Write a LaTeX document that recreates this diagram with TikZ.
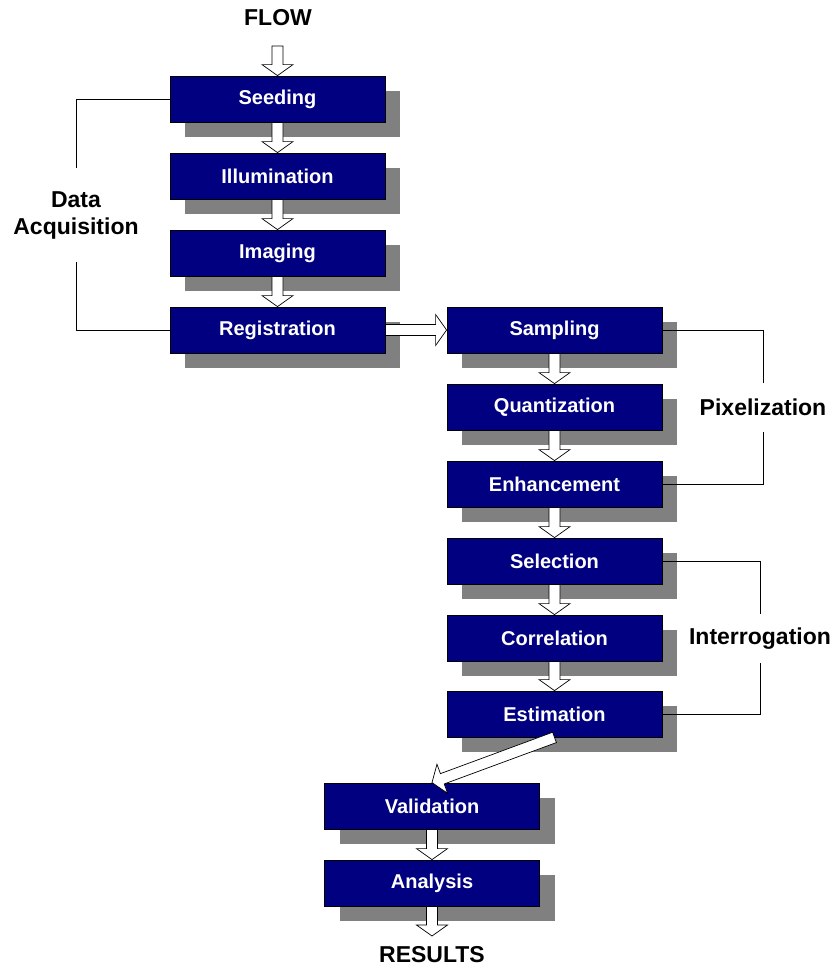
\documentclass[tikz,border=0pt]{standalone}
\usepackage{fontspec}
\setmainfont{Liberation Sans}
\usetikzlibrary{calc,shadows}
\definecolor{boxblue}{HTML}{000080}
\definecolor{shadowgray}{HTML}{808080}
\newcommand{\blockarrow}[2]{%
  \path let \p1=($(#2)-(#1)$), \n1={atan2(\y1,\x1)}, \n2={veclen(\x1,\y1)} in
    \pgfextra{\xdef\bAang{\n1}\xdef\bAlen{\n2}};
  \begin{scope}[shift={(#1)}, rotate=\bAang]
    \draw[blockarr] (0pt,-5.5pt) -- ({\bAlen-11pt},-5.5pt) -- ({\bAlen-11pt},-15.5pt)
      -- ({\bAlen},0pt) -- ({\bAlen-11pt},15.5pt) -- ({\bAlen-11pt},5.5pt)
      -- (0pt,5.5pt) -- cycle;
  \end{scope}}
\tikzset{
  stagebox/.style={draw=black, line width=0.8pt, fill=boxblue, text=white,
    font=\bfseries\fontsize{20}{24}\selectfont, minimum height=46pt, inner sep=0pt,
    general shadow={fill=shadowgray, shadow xshift=15pt, shadow yshift=-15pt}},
  colA/.style={stagebox, minimum width=215pt},
  blockarr/.style={draw=black, fill=white, line width=0.7pt, line join=miter},
  headlabel/.style={font=\bfseries\fontsize{23}{27}\selectfont, inner sep=0pt, align=center},
  bracket/.style={draw=black, line width=0.8pt}
}
\begin{document}
\begin{tikzpicture}[x=1pt, y=-1pt]
\useasboundingbox (0,0) rectangle (838,972);
% column 1
\node[colA] (seeding) at (277.5,99) {Seeding};
\node[colA] (illum) at (277.5,176) {Illumination};
\node[colA] (imaging) at (277.5,253) {Imaging};
\node[colA] (registr) at (277.5,330) {Registration};
% column 2
\node[colA] (sampling) at (554.5,330) {Sampling};
\node[colA] (quant) at (554.5,407) {Quantization};
\node[colA] (enh) at (554.5,484) {Enhancement};
\node[colA] (sel) at (554.5,561) {Selection};
\node[colA] (corr) at (554.5,638) {Correlation};
\node[colA] (estim) at (554.5,714) {Estimation};
% column 3
\node[colA] (valid) at (432,806) {Validation};
\node[colA] (analysis) at (432,883) {Analysis};
% labels
\node[headlabel] (flow) at (278,18) {FLOW};
\node[headlabel] (results) at (432,955) {RESULTS};
\node[headlabel, minimum height=94pt] (dacq) at (76,215) {Data\\Acquisition};
\node[headlabel, minimum height=49pt] (pix) at (763,407.5) {Pixelization};
\node[headlabel, minimum height=49pt] (interr) at (760,638.5) {Interrogation};
\coordinate (flowstart) at (277.5,46);
\coordinate (resend) at (432,936);
% arrows
\blockarrow{flowstart}{seeding.north}
\blockarrow{seeding.south}{illum.north}
\blockarrow{illum.south}{imaging.north}
\blockarrow{imaging.south}{registr.north}
\blockarrow{registr.east}{sampling.west}
\blockarrow{sampling.south}{quant.north}
\blockarrow{quant.south}{enh.north}
\blockarrow{enh.south}{sel.north}
\blockarrow{sel.south}{corr.north}
\blockarrow{corr.south}{estim.north}
\blockarrow{estim.south}{valid.north}
\blockarrow{valid.south}{analysis.north}
\blockarrow{analysis.south}{resend}
% brackets
\draw[bracket] (seeding.west) -| (dacq.north);
\draw[bracket] (dacq.south) |- (registr.west);
\draw[bracket] (sampling.east) -| (pix.north);
\draw[bracket] (pix.south) |- (enh.east);
\draw[bracket] (sel.east) -| (interr.north);
\draw[bracket] (interr.south) |- (estim.east);
\end{tikzpicture}
\end{document}
